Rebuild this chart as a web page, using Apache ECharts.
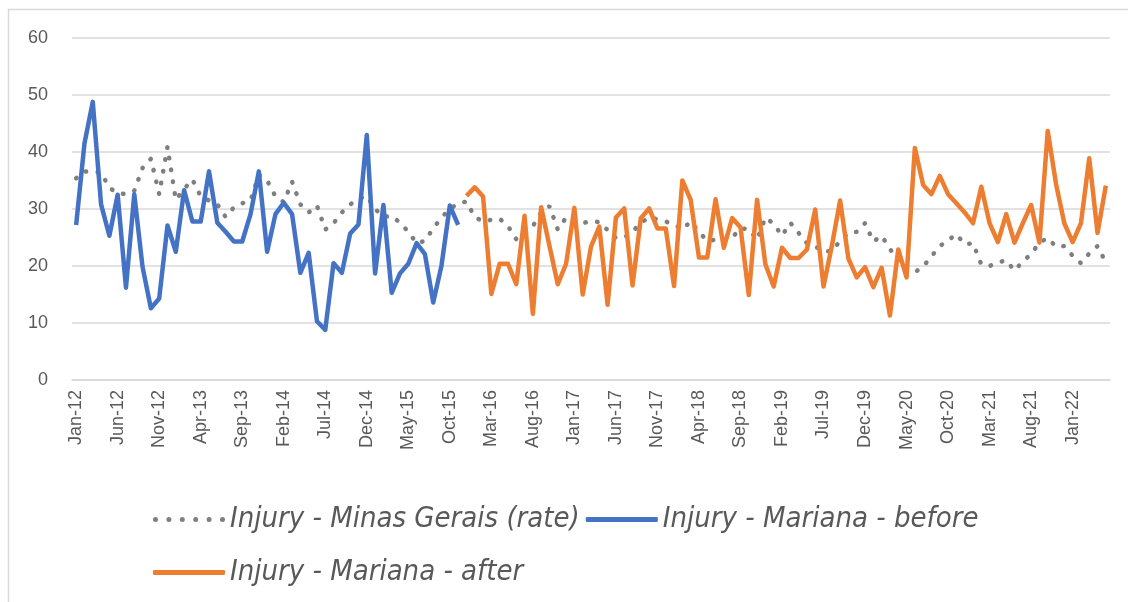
<!DOCTYPE html>
<html>
<head>
<meta charset="utf-8">
<script src="https://cdn.jsdelivr.net/npm/echarts@6/dist/echarts.min.js"></script>
<style>
  html, body { margin: 0; padding: 0; background: #fff; }
  #chart { width: 1128px; height: 602px; }
</style>
</head>
<body>
<div id="chart"></div>
<script>
// monthly categories Jan-12 .. May-22
const monthNames = ['Jan', 'Feb', 'Mar', 'Apr', 'May', 'Jun', 'Jul', 'Aug', 'Sep', 'Oct', 'Nov', 'Dec']
const years = [12, 13, 14, 15, 16, 17, 18, 19, 20, 21, 22]
const lastMonthCount = 5
const categories = []
years.forEach((y, k) => {
  const n = k === years.length - 1 ? lastMonthCount : 12
  for (let m = 0; m < n; m++) categories.push(monthNames[m] + '-' + y)
})

const yTicks = [0, 10, 20, 30, 40, 50, 60]

// Injury - Minas Gerais (rate), Jan-12 .. May-22
const minasGerais = [
  35.4, 36.6, 36.6, 36.4, 33.7, 32.8, 32.6, 33.2, 37.2, 38.8, 32.6, 40.9,
  31.6, 33.5, 35.2, 32.2, 31.5, 30.8, 28.6, 30.3, 31.0, 31.5, 36.0, 35.0,
  32.2, 31.2, 34.8, 30.8, 29.4, 30.6, 26.4, 27.5, 29.4, 30.8, 31.8, 32.3,
  30.0, 28.6, 28.8, 27.6, 26.0, 24.0, 24.4, 26.6, 28.5, 30.0, 31.0, 31.3,
  28.6, 27.8, 28.1, 28.3, 27.0, 24.7, 25.6, 27.0, 29.4, 30.5, 26.4, 28.5,
  28.0, 27.5, 27.9, 27.7, 26.3, 24.9, 25.0, 26.0, 27.6, 28.5, 28.2, 27.8,
  27.3, 26.4, 27.8, 26.0, 24.4, 24.6, 24.5, 25.0, 26.6, 26.5, 24.6, 28.5,
  27.4, 25.3, 27.6, 25.8, 24.0, 23.4, 22.6, 22.6, 24.4, 25.8, 26.0, 27.5,
  24.3, 25.3, 23.0, 20.8, 19.6, 18.9, 19.9, 21.7, 23.5, 24.5, 25.6, 23.8,
  24.0, 20.3, 20.0, 20.6, 21.0, 19.2, 20.8, 22.1, 24.1, 24.9, 23.4, 23.5,
  21.8, 20.5, 22.2, 23.5, 20.6
]

// Injury - Mariana - before, Jan-12 .. Nov-15
const marianaBefore = [
  27.2, 41.5, 48.8, 30.8, 25.3, 32.5, 16.2, 32.6, 19.8, 12.6, 14.3, 27.1,
  22.5, 33.3, 27.8, 27.8, 36.6, 27.6, 26.0, 24.3, 24.3, 29.1, 36.6, 22.5,
  29.1, 31.1, 29.1, 18.8, 22.3, 10.3, 8.8, 20.5, 18.8, 25.7, 27.3, 43.0,
  18.7, 30.7, 15.3, 18.7, 20.4, 24.0, 22.1, 13.6, 20.1, 30.6, 27.2
]

// Injury - Mariana - after, Dec-15 .. May-22
const marianaAfter = [
  32.3, 33.8, 32.2, 15.1, 20.4, 20.4, 16.8, 28.8, 11.6, 30.3, 23.5, 16.8,
  20.4, 30.2, 15.0, 23.4, 26.9, 13.2, 28.5, 30.1, 16.6, 28.4, 30.1, 26.6,
  26.6, 16.5, 35.0, 31.6, 21.5, 21.5, 31.7, 23.2, 28.4, 26.8, 14.9, 31.6,
  20.3, 16.4, 23.2, 21.4, 21.4, 22.9, 29.9, 16.4, 23.5, 31.5, 21.3, 18.0,
  19.8, 16.3, 19.7, 11.3, 22.9, 18.0, 40.7, 34.2, 32.6, 35.8, 32.6, 31.0,
  29.4, 27.5, 33.9, 27.5, 24.2, 29.1, 24.1, 27.5, 30.7, 24.1, 43.7, 34.4,
  27.5, 24.2, 27.5, 38.9, 25.8, 34.1
]

const names = ['Injury - Minas Gerais (rate)', 'Injury - Mariana - before', 'Injury - Mariana - after']

// line up the two Mariana pieces on the full month axis
const beforeData = categories.map((c, i) => i < marianaBefore.length ? marianaBefore[i] : null)
const afterStart = categories.length - marianaAfter.length
const afterData = categories.map((c, i) => i >= afterStart ? marianaAfter[i - afterStart] : null)

// legend icon for the dotted series: six round dots in a 72x5 box
let dotIcon = 'path://'
for (let k = 0; k < 6; k++) {
  const cx = 2.5 + k * 13.4
  dotIcon += 'M' + (cx - 2.5) + ',2.5 a2.5,2.5 0 1,0 5,0 a2.5,2.5 0 1,0 -5,0 Z '
}

const textColor = '#595959'
const axisFont = 'Liberation Sans, Arial, sans-serif'
const legendText = {
  color: textColor,
  fontSize: 29,
  fontStyle: 'italic',
  fontFamily: 'Liberation Sans Narrow, DejaVu Sans Condensed, sans-serif'
}

const myChart = echarts.init(document.getElementById('chart'))
const option = {
  backgroundColor: '#fff',
  animation: false,
  //图表外框
  graphic: [
    {
      type: 'rect',
      silent: true,
      z: -10,
      shape: { x: 8.5, y: 9.5, width: 1300, height: 800 },
      style: { fill: 'none', stroke: '#d9d9d9', lineWidth: 1.5 }
    }
  ],
  grid: {
    left: 72,
    right: 18,
    top: 38,
    bottom: 222
  },
  legend: [
    {
      data: [
        { name: names[0], icon: dotIcon },
        { name: names[1], icon: 'roundRect' }
      ],
      left: 148,
      top: 500,
      itemWidth: 72,
      itemHeight: 5,
      itemGap: 6,
      itemStyle: { borderWidth: 0 },
      textStyle: legendText
    },
    {
      data: [{ name: names[2], icon: 'roundRect' }],
      left: 148,
      top: 553,
      itemWidth: 72,
      itemHeight: 5,
      itemStyle: { borderWidth: 0 },
      textStyle: legendText
    }
  ],
  xAxis: {
    type: 'category',
    data: categories,
    boundaryGap: true,
    axisLine: { lineStyle: { color: '#d9d9d9', width: 1.5 } },
    axisTick: {
      interval: 4,
      length: 6,
      lineStyle: { color: '#d9d9d9', width: 1.5 }
    },
    axisLabel: {
      interval: 4,
      rotate: 90,
      margin: 10,
      color: textColor,
      fontSize: 18,
      fontFamily: axisFont
    },
    splitLine: { show: false }
  },
  yAxis: {
    type: 'value',
    min: yTicks[0],
    max: yTicks[yTicks.length - 1],
    interval: 10,
    axisLine: { show: false },
    axisTick: { show: false },
    axisLabel: {
      margin: 24,
      color: textColor,
      fontSize: 18,
      fontFamily: axisFont
    },
    splitLine: { lineStyle: { color: '#d9d9d9', width: 1.5 } }
  },
  series: [
    {
      name: names[0],
      type: 'line',
      data: minasGerais,
      symbol: 'none',
      color: '#7f7f7f',
      lineStyle: { color: '#7f7f7f', width: 4.5, type: [0.5, 11.5], cap: 'round' },
      z: 1
    },
    {
      name: names[1],
      type: 'line',
      data: beforeData,
      symbol: 'none',
      color: '#4472c4',
      lineStyle: { color: '#4472c4', width: 4.5, join: 'round' },
      z: 2
    },
    {
      name: names[2],
      type: 'line',
      data: afterData,
      symbol: 'none',
      color: '#ed7d31',
      lineStyle: { color: '#ed7d31', width: 4.5, join: 'round' },
      z: 3
    }
  ]
}
option && myChart.setOption(option)
</script>
</body>
</html>
